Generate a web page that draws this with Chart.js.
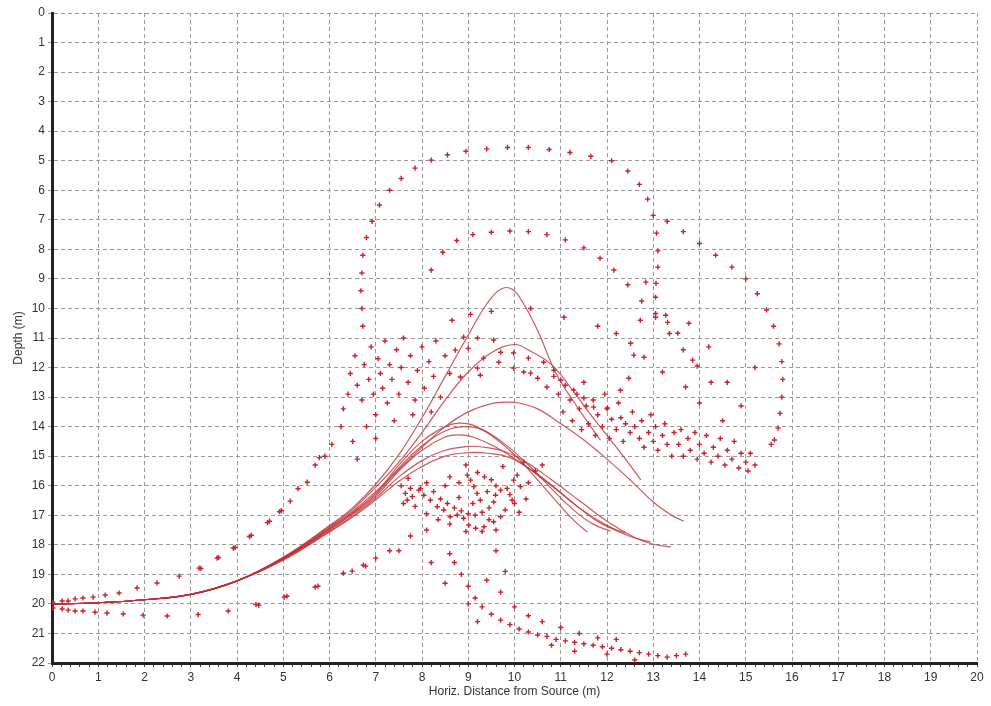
<!DOCTYPE html>
<html>
<head>
<meta charset="utf-8">
<script src="https://cdn.jsdelivr.net/npm/chart.js@4.4.1/dist/chart.umd.min.js"></script>
<style>
  html, body { margin: 0; padding: 0; background: #fff; }
</style>
</head>
<body>
<canvas id="rayChart" width="991" height="706"></canvas>
<script>
// axis ranges
const xMin = 0, xMax = 20;
const yMin = 0, yMax = 22;

// shared start of the ray paths [distance, depth]
const trunk = [[0, 20.0], [1, 19.96], [2, 19.86], [3, 19.68], [4, 19.22]];

// each ray after x = 4
const rayA = [[5, 18.42], [6, 17.35], [6.5, 16.75], [7, 15.95], [7.5, 14.95], [8, 13.7], [8.5, 12.3], [9, 10.9], [9.4, 9.85], [9.7, 9.35], [9.95, 9.35], [10.2, 9.85], [10.5, 10.75], [10.9, 12.2], [11.3, 13.2], [11.65, 14.0], [11.86, 14.46]];
const rayB = [[5, 18.43], [6, 17.38], [6.5, 16.8], [7, 16.05], [7.5, 15.2], [8, 14.2], [8.5, 13.1], [9, 12.15], [9.5, 11.5], [10, 11.22], [10.35, 11.45], [10.8, 11.9], [11.2, 12.65], [11.6, 13.5], [12, 14.3], [12.4, 15.1], [12.73, 15.8]];
const rayC = [[5, 18.45], [6, 17.42], [6.5, 16.86], [7, 16.2], [7.5, 15.45], [8, 14.7], [8.5, 14.0], [9, 13.5], [9.5, 13.22], [9.8, 13.17], [10.1, 13.2], [10.5, 13.4], [11, 13.9], [11.5, 14.45], [12, 15.1], [12.5, 15.8], [13, 16.55], [13.4, 17.0], [13.66, 17.2]];
const rayD = [[5, 18.46], [6, 17.45], [6.5, 16.9], [7, 16.25], [7.5, 15.3], [8, 14.5], [8.5, 14.0], [8.8, 13.88], [9.1, 13.95], [9.5, 14.3], [10, 14.95], [10.5, 15.8], [11, 16.7], [11.3, 17.2], [11.58, 17.57]];
const rayE = [[5, 18.47], [6, 17.47], [6.5, 16.93], [7, 16.3], [7.5, 15.4], [8, 14.65], [8.5, 14.15], [8.9, 14.0], [9.3, 14.1], [9.8, 14.6], [10.3, 15.3], [10.8, 16.1], [11.3, 16.85], [11.7, 17.3], [12.08, 17.54]];
const rayF = [[5, 18.48], [6, 17.5], [6.5, 16.97], [7, 16.36], [7.5, 15.5], [8, 14.8], [8.5, 14.35], [8.8, 14.28], [9.1, 14.35], [9.6, 14.7], [10.2, 15.3], [10.8, 16.0], [11.4, 16.75], [12, 17.35], [12.5, 17.72], [12.94, 17.9]];
const rayG = [[5, 18.5], [6, 17.54], [6.5, 17.02], [7, 16.42], [7.5, 15.7], [8, 15.15], [8.5, 14.8], [9, 14.67], [9.3, 14.69], [9.8, 14.85], [10.3, 15.25], [10.8, 15.8], [11.4, 16.5], [12, 17.2], [12.6, 17.75], [13.0, 17.98], [13.38, 18.07]];
const rayH = [[5, 18.52], [6, 17.57], [6.5, 17.06], [7, 16.48], [7.5, 15.85], [8, 15.35], [8.5, 15.0], [9, 14.88], [9.42, 14.9], [9.9, 15.05], [10.4, 15.5], [10.9, 16.1], [11.4, 16.75], [11.9, 17.3], [12.4, 17.6]];

// measured returns (cross markers), grouped by area
const nearSurface = [[0.02, 19.94], [0.22, 19.9], [0.35, 19.9], [0.5, 19.83], [0.67, 19.8], [0.89, 19.77], [1.15, 19.7], [1.45, 19.63], [1.84, 19.46], [2.27, 19.29],
  [0.02, 20.14], [0.22, 20.17], [0.35, 20.21], [0.5, 20.24], [0.67, 20.24], [0.93, 20.28], [1.19, 20.31], [1.54, 20.34], [1.97, 20.38], [2.49, 20.41], [3.16, 20.36], [3.81, 20.24], [4.41, 20.02], [4.47, 20.04], [5.02, 19.77], [5.08, 19.74]];
const leftRise = [[2.75, 19.06], [3.18, 18.79], [3.22, 18.8], [3.57, 18.45], [3.6, 18.43], [3.92, 18.11], [3.96, 18.09], [4.27, 17.72], [4.31, 17.68], [4.66, 17.25], [4.7, 17.2], [4.92, 16.88], [4.96, 16.84], [5.15, 16.52], [5.32, 16.1], [5.52, 15.88], [5.69, 15.3], [5.78, 15.05], [5.9, 15.0], [6.05, 14.6]];
const lowerLeft = [[5.69, 19.43], [5.75, 19.4], [6.3, 18.96], [6.49, 18.89], [6.73, 18.69], [6.78, 18.72], [7.0, 18.45], [7.3, 18.2], [7.5, 18.2], [7.75, 17.7], [8.1, 17.5], [8.2, 18.6], [8.6, 18.3], [9.6, 18.2], [9.8, 18.9]];
const upperLeftCloud = [[6.25, 14.0], [6.3, 13.4], [6.4, 12.9], [6.45, 12.2], [6.55, 11.6], [6.6, 12.6], [6.7, 13.1], [6.75, 11.9], [6.85, 12.4], [6.9, 11.3], [6.95, 12.9], [7.0, 13.6], [7.05, 11.7], [7.1, 12.2], [7.15, 12.7], [7.2, 11.1], [7.25, 13.2], [7.3, 11.9], [7.35, 12.4], [7.45, 11.4], [7.5, 12.9], [7.55, 12.0], [7.6, 11.0], [7.7, 12.5], [7.75, 11.6], [7.85, 13.1], [7.9, 12.1], [8.0, 11.3], [8.05, 12.7], [8.15, 11.8], [8.25, 12.3], [8.3, 11.1], [8.4, 13.0], [8.5, 11.6], [8.6, 12.2], [6.5, 14.5], [6.6, 15.1], [6.8, 14.0], [7.0, 14.4], [7.4, 13.8], [7.8, 13.6], [8.2, 13.5]];
const midCloud = [[8.65, 10.4], [9.05, 10.2], [9.5, 10.1], [10.35, 10.0], [11.07, 10.3], [11.8, 10.6], [8.9, 10.97], [9.2, 11.0], [9.55, 11.07], [8.72, 11.41], [9.0, 11.35], [9.33, 11.68], [9.7, 11.48], [9.98, 11.51], [10.3, 11.68], [9.66, 11.82], [9.98, 12.02], [10.2, 12.15], [10.35, 12.19], [10.5, 12.36], [10.7, 12.66], [9.2, 12.02], [8.83, 12.32], [9.26, 12.26], [10.63, 11.82], [10.85, 12.09], [11.0, 12.43], [11.28, 12.76], [11.5, 13.03], [11.71, 13.34], [12.01, 13.37]];
const outerArc = [[6.72, 10.6], [6.7, 10.0], [6.68, 9.4], [6.7, 8.8], [6.72, 8.2], [6.8, 7.6], [6.92, 7.05], [7.08, 6.5], [7.3, 6.0], [7.55, 5.6], [7.85, 5.25], [8.2, 4.98], [8.55, 4.8], [8.95, 4.68], [9.4, 4.6], [9.85, 4.55], [10.3, 4.55], [10.75, 4.62], [11.2, 4.72], [11.65, 4.85], [12.1, 5.0], [12.45, 5.35], [12.7, 5.8], [12.88, 6.3], [13.0, 6.85], [13.07, 7.45], [13.1, 8.05], [13.1, 8.6], [13.06, 9.15]];
const innerArc = [[8.2, 8.7], [8.45, 8.1], [8.75, 7.7], [9.1, 7.5], [9.5, 7.42], [9.9, 7.38], [10.3, 7.4], [10.7, 7.5], [11.1, 7.68], [11.5, 7.95], [11.85, 8.3], [12.15, 8.7], [12.45, 9.2], [12.75, 9.75], [13.05, 10.3], [13.35, 10.85], [13.65, 11.4], [13.95, 11.95], [14.25, 12.5]];
const rightArc = [[13.3, 7.05], [13.65, 7.4], [14.0, 7.8], [14.35, 8.2], [14.7, 8.6], [15.0, 9.0], [15.25, 9.5], [15.45, 10.05], [15.6, 10.6], [15.72, 11.2], [15.78, 11.8], [15.8, 12.4], [15.78, 13.0], [15.74, 13.55], [15.7, 14.05], [15.62, 14.45], [15.55, 14.6]];
const midRight = [[12.2, 10.85], [12.51, 11.18], [12.58, 11.58], [12.8, 11.65], [12.47, 12.36], [12.29, 12.77], [12.72, 10.4], [13.05, 9.62], [13.05, 10.17], [13.27, 10.23], [13.31, 10.47], [13.53, 10.84], [13.77, 10.5], [13.85, 11.75], [13.2, 12.15], [13.7, 12.66], [12.84, 9.11], [14.2, 11.3], [14.6, 12.5], [14.9, 13.3], [14.5, 13.8], [15.2, 12.0], [14.0, 13.2]];
const band = [[10.85, 12.3], [10.95, 12.9], [11.05, 13.5], [11.1, 12.6], [11.2, 13.1], [11.25, 13.8], [11.35, 12.9], [11.4, 13.4], [11.45, 14.1], [11.5, 12.5],
  [11.55, 13.3], [11.6, 13.9], [11.7, 13.1], [11.75, 14.3], [11.8, 13.6], [11.9, 14.0], [11.95, 12.9], [12.0, 13.4], [12.05, 14.4], [12.1, 13.75], [12.2, 14.1], [12.25, 13.2], [12.3, 13.7], [12.35, 14.5], [12.4, 13.9], [12.5, 14.2],
  [12.55, 13.5], [12.6, 14.0], [12.7, 14.4], [12.75, 13.8], [12.8, 14.7], [12.9, 14.2], [12.95, 13.6], [13.0, 14.5], [13.05, 14.0], [13.1, 14.8], [13.2, 14.3], [13.25, 13.9], [13.3, 14.6], [13.4, 15.0], [13.45, 14.2],
  [13.55, 14.6], [13.6, 14.1], [13.65, 15.0], [13.75, 14.4], [13.8, 14.8], [13.9, 14.2], [13.95, 15.1], [14.0, 14.6], [14.1, 14.9], [14.15, 14.3], [14.25, 15.2], [14.3, 14.7], [14.4, 15.0], [14.45, 14.4],
  [14.55, 15.3], [14.6, 14.8], [14.7, 15.1], [14.75, 14.5], [14.85, 15.4], [14.9, 14.9], [15.0, 15.2], [15.05, 15.5], [15.1, 14.9], [15.2, 15.3]];
const lowerLoop = [[8.98, 15.64], [9.05, 15.81], [9.12, 16.03], [9.19, 16.26], [9.26, 16.49], [9.41, 16.2], [9.59, 16.32], [9.7, 16.15], [9.84, 16.09], [9.98, 15.81], [10.06, 15.64], [10.13, 16.03], [9.95, 16.49], [9.8, 16.82], [9.7, 17.05], [9.55, 17.22], [9.34, 17.39], [9.16, 17.44], [9.01, 17.33], [8.9, 17.1], [8.76, 16.99], [8.61, 17.05], [8.47, 16.82], [8.33, 16.71], [8.18, 16.49], [8.04, 16.32], [7.93, 16.15], [7.79, 16.37], [7.68, 16.49], [7.64, 16.26], [7.75, 16.09], [7.97, 16.09],
  [8.1, 15.9], [8.25, 16.2], [8.4, 16.45], [8.55, 16.6], [8.7, 16.75], [8.85, 16.85], [9.0, 16.95], [9.15, 17.0], [9.3, 16.9], [9.45, 16.75], [9.55, 16.55], [9.6, 16.0], [9.5, 15.8], [9.35, 15.7], [9.2, 15.55], [9.6, 17.5], [9.3, 17.55], [8.95, 17.55], [8.6, 17.3], [8.35, 17.15], [8.1, 16.95], [7.85, 16.7], [7.6, 16.6], [7.55, 16.0], [7.7, 15.75], [8.8, 15.9], [8.6, 15.7], [9.9, 16.3], [10.0, 16.6], [10.1, 16.9], [10.25, 16.45], [10.3, 15.9], [10.45, 15.5], [10.6, 15.3], [10.2, 15.2], [9.75, 15.35], [8.95, 15.3], [9.1, 16.6], [8.8, 16.4], [8.5, 16.0], [9.45, 17.15]];
const lowerTail = [[8.7, 18.6], [8.85, 19.0], [9.0, 19.4], [9.15, 19.8], [9.3, 20.1], [9.5, 20.35], [9.7, 20.55], [9.9, 20.7], [10.1, 20.85], [10.3, 20.95], [10.5, 21.05], [10.7, 21.1], [10.9, 21.2], [11.1, 21.25], [11.3, 21.3], [11.5, 21.35], [11.7, 21.4], [11.9, 21.45], [12.1, 21.5], [12.3, 21.55], [12.5, 21.6], [12.7, 21.65], [12.9, 21.7], [13.1, 21.75], [13.3, 21.8], [13.5, 21.75], [13.7, 21.7],
  [9.4, 19.2], [9.7, 19.6], [10.0, 20.1], [10.3, 20.4], [10.6, 20.6], [11.0, 20.8], [11.4, 21.0], [11.8, 21.15], [12.2, 21.2], [10.8, 21.4], [11.3, 21.6], [12.0, 21.7], [12.6, 21.9], [9.0, 20.0], [9.2, 20.6], [8.5, 19.3]];

const measured = [].concat(nearSurface, leftRise, lowerLeft, upperLeftCloud, midCloud, outerArc, innerArc, rightArc, midRight, band, lowerLoop, lowerTail);

const toPts = arr => arr.map(p => ({ x: p[0], y: p[1] }));
const rays = [rayA, rayB, rayC, rayD, rayE, rayF, rayG, rayH];

const rayColor = 'rgba(192, 48, 52, 0.8)';
const markColor = '#c8232c';

const datasets = [{
  label: 'measured',
  data: toPts(measured),
  showLine: false,
  pointStyle: 'cross',
  pointRadius: 2.6,
  pointBorderWidth: 1.4,
  pointBorderColor: markColor,
  pointBackgroundColor: markColor
}];
rays.forEach(function (r) {
  datasets.push({
    label: 'ray',
    data: toPts(trunk.concat(r)),
    showLine: true,
    borderColor: rayColor,
    borderWidth: 1.2,
    pointRadius: 0,
    tension: 0.4,
    fill: false
  });
});

const isWhole = v => Math.abs(v - Math.round(v)) < 1e-6;
const labelFont = { family: 'Liberation Sans, Arial, sans-serif', size: 12 };

new Chart(document.getElementById('rayChart').getContext('2d'), {
  type: 'scatter',
  data: { datasets: datasets },
  options: {
    responsive: false,
    animation: false,
    layout: { padding: { top: 13, right: 14, left: 0, bottom: 0 } },
    plugins: { legend: { display: false }, tooltip: { enabled: false } },
    scales: {
      x: {
        type: 'linear',
        min: xMin, max: xMax,
        afterFit: s => { s.height = 43; },
        ticks: {
          stepSize: 0.2, autoSkip: false, maxRotation: 0, padding: 3,
          color: '#333', font: labelFont,
          callback: v => isWhole(v) ? String(Math.round(v)) : ''
        },
        grid: {
          color: c => (c.tick && isWhole(c.tick.value)) ? '#9a9a9a' : 'rgba(0,0,0,0)',
          tickColor: '#444', tickLength: 4, lineWidth: 1
        },
        border: { display: true, color: '#222', width: 3, dash: [4, 3] },
        title: {
          display: true, text: 'Horiz. Distance from Source (m)',
          color: '#333', font: labelFont, padding: { top: 0, bottom: 7 }
        }
      },
      y: {
        type: 'linear',
        reverse: true,
        min: yMin, max: yMax,
        afterFit: s => { s.width = 52; },
        ticks: { stepSize: 1, padding: 3, color: '#333', font: labelFont },
        grid: { color: '#9a9a9a', tickColor: '#9a9a9a', tickLength: 4, lineWidth: 1 },
        border: { display: true, color: '#222', width: 3, dash: [4, 3] },
        title: {
          display: true, text: 'Depth (m)',
          color: '#333', font: labelFont, padding: { top: 11, bottom: 0 }
        }
      }
    }
  }
});
</script>
</body>
</html>
